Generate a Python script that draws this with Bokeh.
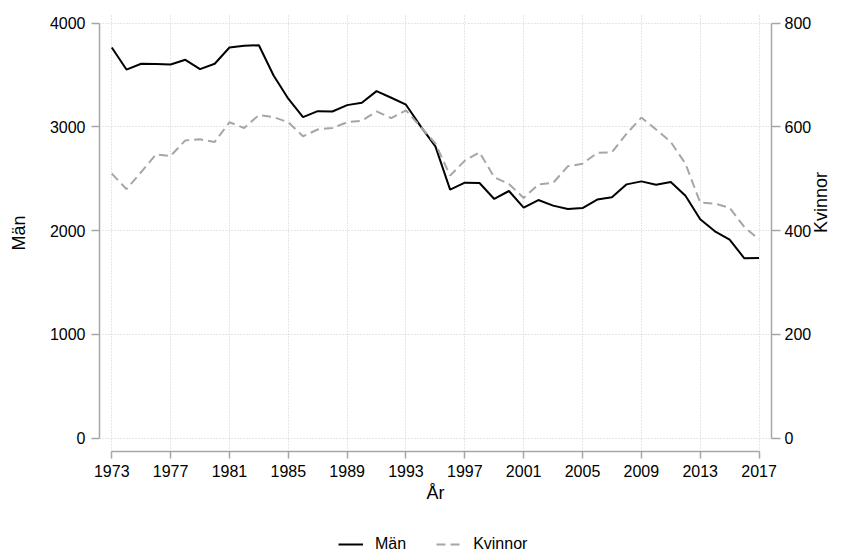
import math
from bokeh.plotting import figure
from bokeh.layouts import column
from bokeh.models import Range1d, LinearAxis, FixedTicker, Legend, LegendItem
from bokeh.embed import file_html
from bokeh.resources import INLINE

years = list(range(1973, 2018))
man = [3766, 3553, 3609, 3606, 3602, 3647, 3557, 3609, 3766, 3782,
       3788, 3496, 3272, 3095, 3152, 3149, 3210, 3233, 3345, 3281,
       3214, 3005, 2812, 2395, 2462, 2459, 2305, 2382, 2222, 2295,
       2241, 2208, 2218, 2299, 2321, 2446, 2475, 2443, 2468, 2337,
       2109, 1993, 1913, 1733, 1737]
kvinnor = [510, 480, 513, 547, 544, 574, 576, 571, 609, 598,
           623, 619, 609, 582, 595, 598, 609, 612, 630, 617,
           632, 600, 568, 506, 535, 551, 503, 490, 463, 489,
           492, 524, 529, 550, 551, 587, 618, 595, 571, 529,
           454, 452, 444, 407, 383]
x_ticks = [1973, 1977, 1981, 1985, 1989, 1993, 1997, 2001, 2005, 2009, 2013, 2017]
left_ticks = [0, 1000, 2000, 3000, 4000]
right_ticks = [0, 200, 400, 600, 800]

FONT = "Liberation Sans"
AXIS_COLOR = "#a6a6a6"
GRAY = "#a6a6a6"

p = figure(width=844, height=525, output_backend="svg", toolbar_location=None,
           x_range=Range1d(1972.166, 2017.847), y_range=Range1d(-130, 4084),
           min_border_left=99, min_border_right=71, min_border_top=14,
           min_border_bottom=74)
p.outline_line_color = None
p.background_fill_color = "white"
p.border_fill_color = "white"
p.extra_y_ranges = {"k": Range1d(-26, 816.8)}


def style_axis(ax, tick_out, standoff, label_standoff):
    ax.axis_line_color = AXIS_COLOR
    ax.axis_line_width = 1.5
    ax.major_tick_line_color = AXIS_COLOR
    ax.major_tick_line_width = 1.5
    ax.major_tick_out = tick_out
    ax.major_tick_in = 0
    ax.minor_tick_line_color = None
    ax.major_label_text_font = FONT
    ax.major_label_text_font_size = "16px"
    ax.major_label_text_color = "black"
    ax.major_label_standoff = standoff
    ax.axis_label_text_font = FONT
    ax.axis_label_text_font_size = "18px"
    ax.axis_label_text_font_style = "normal"
    ax.axis_label_text_color = "black"
    ax.axis_label_standoff = label_standoff


xa = p.xaxis[0]
xa.ticker = FixedTicker(ticks=x_ticks)
xa.bounds = (1973, 2017)
xa.axis_label = "År"
style_axis(xa, 7, 6, 3)

ya = p.yaxis[0]
ya.ticker = FixedTicker(ticks=left_ticks)
ya.bounds = (0, 4000)
ya.axis_label = "Män"
style_axis(ya, 8, 6, 18)

ra = LinearAxis(y_range_name="k", axis_label="Kvinnor")
ra.ticker = FixedTicker(ticks=right_ticks)
ra.bounds = (0, 800)
style_axis(ra, 9, 4, 7)
ra.axis_label_orientation = math.pi / 2
p.add_layout(ra, "right")

for g in (p.xgrid, p.ygrid):
    g.grid_line_color = "#cccccc"
    g.grid_line_dash = "1 2"
    g.grid_line_width = 1

p.line(years, man, line_color="black", line_width=2)
p.line(years, kvinnor, y_range_name="k", line_color=GRAY,
       line_width=2, line_dash="9 5")

# legend strip below the chart (series kept out of view, only the key shows)
q = figure(width=844, height=28, output_backend="svg", toolbar_location=None,
           x_range=Range1d(0, 1), y_range=Range1d(0, 1),
           x_axis_location=None, y_axis_location=None,
           min_border_left=0, min_border_right=0, min_border_top=0,
           min_border_bottom=0)
q.outline_line_color = None
q.grid.visible = False
q.background_fill_color = "white"
q.border_fill_color = "white"
q1 = q.line(years, man, line_color="black", line_width=2)
q2 = q.line(years, kvinnor, line_color=GRAY, line_width=2, line_dash="9 5")

legend = Legend(items=[LegendItem(label="Män", renderers=[q1]),
                       LegendItem(label="Kvinnor", renderers=[q2])],
                orientation="horizontal", location=(239, 0))
legend.border_line_color = None
legend.background_fill_alpha = 0
legend.padding = 0
legend.margin = 0
legend.spacing = 30
legend.label_standoff = 12
legend.glyph_width = 25
legend.glyph_height = 14
legend.label_height = 14
legend.label_text_font = FONT
legend.label_text_font_size = "16px"
legend.label_text_color = "black"
q.add_layout(legend)

layout = column(p, q, spacing=0)
open("out.html", "w").write(file_html(layout, INLINE))
